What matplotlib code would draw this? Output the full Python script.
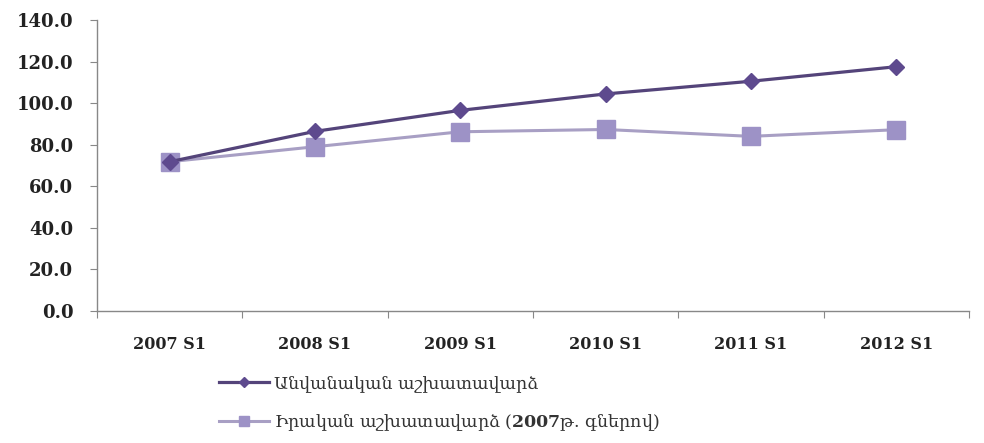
import matplotlib
matplotlib.use("Agg")
import matplotlib.pyplot as plt
from matplotlib.ticker import FixedLocator, NullFormatter

periods = ["2007 S1", "2008 S1", "2009 S1", "2010 S1", "2011 S1", "2012 S1"]
nominal = [71.8, 86.4, 96.5, 104.4, 110.5, 117.5]
real = [71.8, 79.0, 86.2, 87.3, 84.0, 87.2]
label_nominal = "Անվանական աշխատավարձ"
label_real = "Իրական աշխատավարձ ($\\mathbf{2007}$թ. գներով)"

plt.rcParams["font.family"] = ["DejaVu Serif", "DejaVu Sans"]
plt.rcParams["mathtext.fontset"] = "dejavuserif"

fig = plt.figure(figsize=(9.84, 4.43), dpi=100)
ax = fig.add_axes([0.0986, 0.298, 0.886, 0.657])

x = list(range(len(periods)))
ax.plot(x, nominal, color="#54447a", lw=2.3, marker="D", ms=8,
        mfc="#5e4a8e", mec="#5e4a8e", label=label_nominal, zorder=3)
ax.plot(x, real, color="#a89fc4", lw=2.2, marker="s", ms=12.5,
        mfc="#9d92c6", mec="#9d92c6", label=label_real, zorder=2)

ax.set_xlim(-0.5, len(periods) - 0.5)
ax.set_ylim(0, 140)
ax.set_yticks(range(0, 141, 20))
ax.set_yticklabels([f"{v:.1f}" for v in range(0, 141, 20)],
                   fontsize=13, fontweight="bold", color="#222222")

ax.xaxis.set_major_locator(FixedLocator([i - 0.5 for i in range(len(periods) + 1)]))
ax.xaxis.set_major_formatter(NullFormatter())
ax.xaxis.set_minor_locator(FixedLocator(x))
ax.set_xticklabels(periods, minor=True, fontsize=11.5, fontweight="bold", color="#222222")
ax.tick_params(axis="x", which="minor", length=0, pad=18)
ax.tick_params(axis="x", which="major", length=5, color="#888888", direction="out")
ax.tick_params(axis="y", length=5, color="#888888", direction="out", pad=12)

for side in ["top", "right"]:
    ax.spines[side].set_visible(False)
for side in ["left", "bottom"]:
    ax.spines[side].set_color("#888888")
    ax.spines[side].set_linewidth(1.0)

leg = fig.legend(loc="upper left", bbox_to_anchor=(0.215, 0.17), frameon=False,
                 fontsize=12.5, handlelength=2.9, handletextpad=0.3, labelspacing=1.1,
                 markerscale=0.6, borderaxespad=0)
for t in leg.get_texts():
    t.set_color("#333333")

fig.savefig("out.png", dpi=100)
